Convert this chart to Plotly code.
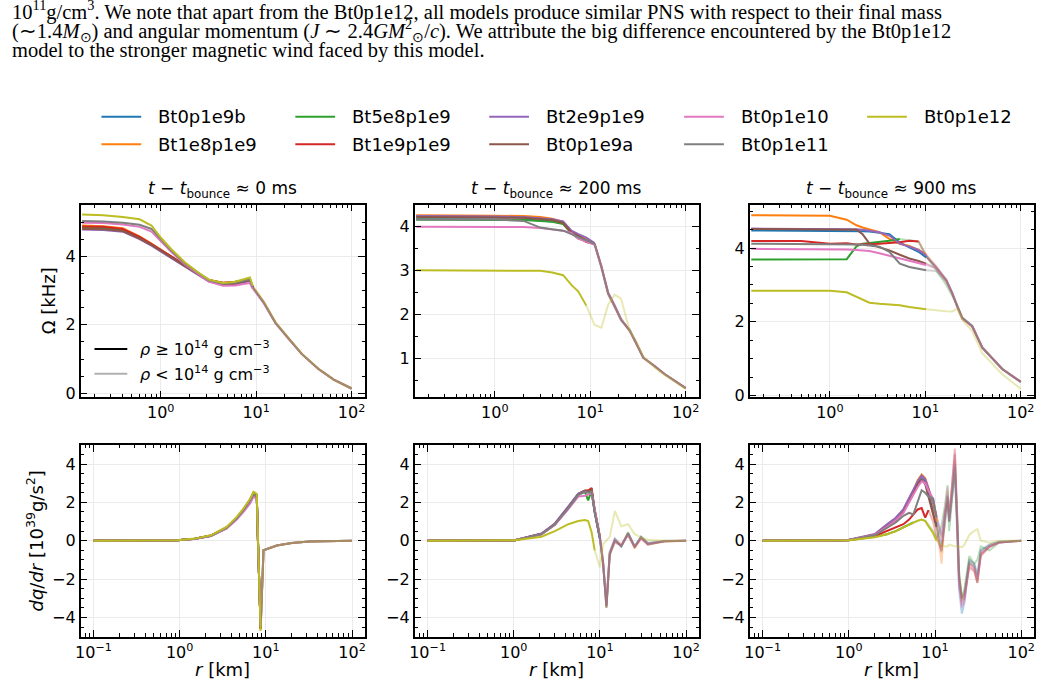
import plotly.graph_objects as go

W, H = 1054, 696
FONT = "DejaVu Sans"

MODELS = ["Bt0p1e9b", "Bt1e8p1e9", "Bt5e8p1e9", "Bt1e9p1e9", "Bt2e9p1e9",
          "Bt0p1e9a", "Bt0p1e10", "Bt0p1e11", "Bt0p1e12"]
COLORS = ["#1f77b4", "#ff7f0e", "#2ca02c", "#d62728", "#9467bd",
          "#8c564b", "#e377c2", "#7f7f7f", "#bcbd22"]
TIMES_MS = [0, 200, 900]
DENSITY_LABELS = ["<i>ρ</i> ≥ 10<sup>14</sup> g cm<sup>−3</sup>",
                  "<i>ρ</i> &lt; 10<sup>14</sup> g cm<sup>−3</sup>"]

# ---------------- Omega [kHz], t - t_bounce ~ 0 ms ----------------
R_OM_0 = [0.15, 0.25, 0.4, 0.6, 0.8, 1.0, 1.3, 1.8, 2.5, 3.2, 4.5, 6.0, 8.6, 9.2, 12, 16, 22, 30, 45, 65, 100]
OM_0_BT0P1E9B = [4.82, 4.81, 4.76, 4.54, 4.34, 4.17, 3.97, 3.71, 3.47, 3.29, 3.19, 3.21, 3.31, 3.09, 2.65, 2.05, 1.58, 1.15, 0.71, 0.40, 0.14]
OM_0_BT1E8P1E9 = [4.90, 4.88, 4.82, 4.58, 4.37, 4.19, 3.99, 3.73, 3.49, 3.31, 3.22, 3.25, 3.33, 3.10, 2.66, 2.05, 1.58, 1.15, 0.71, 0.40, 0.14]
OM_0_BT5E8P1E9 = [4.84, 4.83, 4.77, 4.55, 4.35, 4.18, 3.98, 3.72, 3.48, 3.30, 3.21, 3.23, 3.32, 3.10, 2.65, 2.05, 1.58, 1.15, 0.71, 0.40, 0.14]
OM_0_BT1E9P1E9 = [4.87, 4.86, 4.80, 4.57, 4.36, 4.19, 3.99, 3.73, 3.49, 3.31, 3.23, 3.26, 3.33, 3.10, 2.66, 2.06, 1.58, 1.15, 0.71, 0.40, 0.14]
OM_0_BT2E9P1E9 = [4.78, 4.77, 4.72, 4.50, 4.31, 4.14, 3.94, 3.68, 3.44, 3.26, 3.16, 3.18, 3.28, 3.08, 2.64, 2.05, 1.58, 1.15, 0.71, 0.40, 0.14]
OM_0_BT0P1E9A = [4.80, 4.79, 4.74, 4.52, 4.33, 4.16, 3.96, 3.70, 3.46, 3.28, 3.18, 3.20, 3.30, 3.09, 2.65, 2.05, 1.58, 1.15, 0.71, 0.40, 0.14]
OM_0_BT0P1E10 = [4.98, 4.97, 4.93, 4.86, 4.72, 4.45, 4.12, 3.76, 3.46, 3.26, 3.14, 3.15, 3.22, 3.05, 2.62, 2.04, 1.57, 1.15, 0.71, 0.40, 0.14]
OM_0_BT0P1E11 = [5.03, 5.02, 4.98, 4.92, 4.80, 4.50, 4.16, 3.79, 3.50, 3.30, 3.20, 3.23, 3.33, 3.10, 2.66, 2.05, 1.58, 1.15, 0.71, 0.40, 0.14]
OM_0_BT0P1E12 = [5.22, 5.20, 5.15, 5.08, 4.90, 4.55, 4.20, 3.82, 3.52, 3.32, 3.22, 3.26, 3.38, 3.14, 2.70, 2.08, 1.60, 1.16, 0.72, 0.40, 0.14]
CUT_OM_0 = [9.2, 9.2, 9.2, 9.2, 9.2, 9.2, 9.2, 9.2, 9.2]

# ---------------- Omega [kHz], ~ 200 ms ----------------
R_OM_200 = [0.15, 0.5, 1.0, 2.0, 3.0, 4.0, 5.2, 6.35, 7.5, 9.1, 11.1, 13.1, 15.4, 18, 21, 26, 30, 36, 47, 60, 100]
OM_200_BT0P1E9B = [4.16, 4.16, 4.16, 4.15, 4.13, 4.11, 4.06, 3.85, 3.77, 3.68, 3.60, 3.08, 2.50, 2.22, 1.90, 1.62, 1.38, 1.02, 0.83, 0.65, 0.33]
OM_200_BT1E8P1E9 = [4.25, 4.25, 4.24, 4.23, 4.21, 4.17, 4.10, 3.87, 3.80, 3.70, 3.60, 3.10, 2.48, 2.20, 1.89, 1.63, 1.37, 1.02, 0.83, 0.65, 0.33]
OM_200_BT5E8P1E9 = [4.15, 4.15, 4.15, 4.14, 4.12, 4.10, 4.05, 3.84, 3.72, 3.66, 3.60, 3.05, 2.45, 2.18, 1.86, 1.66, 1.36, 1.01, 0.84, 0.65, 0.33]
OM_200_BT1E9P1E9 = [4.22, 4.22, 4.21, 4.20, 4.18, 4.15, 4.08, 3.85, 3.75, 3.64, 3.60, 3.08, 2.48, 2.20, 1.89, 1.63, 1.37, 1.02, 0.83, 0.65, 0.33]
OM_200_BT2E9P1E9 = [4.23, 4.23, 4.22, 4.21, 4.19, 4.16, 4.11, 3.90, 3.82, 3.74, 3.62, 3.10, 2.50, 2.21, 1.88, 1.62, 1.37, 1.02, 0.83, 0.65, 0.33]
OM_200_BT0P1E9A = [4.21, 4.21, 4.20, 4.19, 4.17, 4.14, 4.08, 3.86, 3.78, 3.68, 3.60, 3.08, 2.48, 2.20, 1.89, 1.63, 1.37, 1.02, 0.83, 0.65, 0.33]
OM_200_BT0P1E10 = [3.99, 3.99, 3.99, 3.98, 3.96, 3.93, 3.90, 3.85, 3.72, 3.65, 3.58, 3.06, 2.47, 2.20, 1.90, 1.64, 1.38, 1.03, 0.83, 0.65, 0.33]
OM_200_BT0P1E11 = [4.15, 4.15, 4.15, 4.12, 3.97, 3.93, 3.90, 3.82, 3.76, 3.68, 3.60, 3.08, 2.48, 2.20, 1.89, 1.63, 1.37, 1.02, 0.83, 0.65, 0.33]
OM_200_BT0P1E12 = [3.00, 3.00, 3.00, 3.00, 2.99, 2.95, 2.89, 2.67, 2.52, 2.20, 1.76, 1.70, 2.22, 2.45, 2.36, 1.62, 1.42, 1.05, 0.80, 0.63, 0.31]
CUT_OM_200 = [11.1, 11.1, 11.1, 11.1, 11.1, 11.1, 11.1, 11.1, 9.1]

# ---------------- Omega [kHz], ~ 900 ms ----------------
R_OM_900 = [0.15, 0.5, 1.0, 1.5, 1.9, 2.2, 2.6, 3.3, 4.2, 5.4, 6.8, 8.5, 10.2, 12.9, 16.6, 19.2, 21.6, 24.4, 31, 39.5, 64, 100]
OM_900_BT0P1E9B = [4.48, 4.48, 4.48, 4.48, 4.47, 4.46, 4.45, 4.42, 4.38, 4.15, 4.02, 3.90, 3.75, 3.50, 3.15, 2.78, 2.40, 2.10, 1.88, 1.30, 0.72, 0.37]
OM_900_BT1E8P1E9 = [4.89, 4.89, 4.88, 4.77, 4.62, 4.56, 4.50, 4.43, 4.25, 4.12, 4.06, 3.95, 3.83, 3.52, 3.12, 2.75, 2.42, 2.12, 1.86, 1.30, 0.72, 0.37]
OM_900_BT5E8P1E9 = [3.69, 3.69, 3.68, 3.70, 4.05, 4.12, 4.14, 4.16, 4.20, 4.25, 4.22, 4.18, 3.80, 3.40, 3.00, 2.70, 2.45, 2.12, 1.90, 1.32, 0.72, 0.37]
OM_900_BT1E9P1E9 = [4.19, 4.19, 4.12, 4.13, 4.10, 4.10, 4.11, 4.12, 4.14, 4.16, 4.20, 4.18, 3.78, 3.48, 3.10, 2.78, 2.44, 2.08, 1.88, 1.30, 0.72, 0.37]
OM_900_BT2E9P1E9 = [4.53, 4.53, 4.52, 4.52, 4.51, 4.50, 4.47, 4.43, 4.34, 4.12, 4.04, 3.95, 3.80, 3.50, 3.14, 2.78, 2.42, 2.10, 1.88, 1.30, 0.72, 0.37]
OM_900_BT0P1E9A = [4.52, 4.52, 4.52, 4.51, 4.50, 4.38, 4.12, 4.02, 3.94, 3.82, 3.72, 3.65, 3.58, 3.45, 3.13, 2.77, 2.42, 2.10, 1.88, 1.30, 0.72, 0.37]
OM_900_BT0P1E10 = [3.98, 3.98, 3.97, 3.96, 3.95, 3.94, 3.92, 3.86, 3.79, 3.72, 3.65, 3.59, 3.54, 3.46, 3.10, 2.75, 2.40, 2.08, 1.88, 1.30, 0.72, 0.37]
OM_900_BT0P1E11 = [4.12, 4.12, 4.12, 4.11, 4.10, 4.09, 4.07, 4.04, 3.90, 3.58, 3.49, 3.44, 3.40, 3.38, 3.10, 2.76, 2.42, 2.10, 1.88, 1.30, 0.72, 0.37]
OM_900_BT0P1E12 = [2.84, 2.84, 2.84, 2.80, 2.68, 2.62, 2.52, 2.49, 2.47, 2.45, 2.40, 2.37, 2.34, 2.31, 2.29, 2.28, 2.35, 2.05, 1.75, 1.15, 0.58, 0.18]
CUT_OM_900 = [10.2, 10.2, 5.4, 8.5, 10.2, 10.2, 10.2, 10.2, 10.2]

# ---------------- dq/dr [1e39 g/s^2], ~ 0 ms ----------------
R_DQ_0 = [0.1, 0.5, 0.94, 1.5, 2.3, 3.5, 4.6, 5.5, 6.6, 7.2, 7.85, 8.1, 8.7, 9.4, 13.4, 20, 32, 60, 100]
DQ_0_BT0P1E9B = [0, 0, 0.03, 0.10, 0.26, 0.68, 1.18, 1.60, 2.10, 2.45, 2.28, 0.00, -4.50, -0.50, -0.25, -0.12, -0.04, 0, 0]
DQ_0_BT1E8P1E9 = [0, 0, 0.03, 0.10, 0.27, 0.69, 1.20, 1.63, 2.15, 2.50, 2.32, 0.00, -4.60, -0.50, -0.25, -0.12, -0.04, 0, 0]
DQ_0_BT5E8P1E9 = [0, 0, 0.03, 0.10, 0.26, 0.68, 1.19, 1.62, 2.13, 2.49, 2.30, 0.00, -4.60, -0.50, -0.25, -0.12, -0.04, 0, 0]
DQ_0_BT1E9P1E9 = [0, 0, 0.03, 0.10, 0.27, 0.69, 1.20, 1.64, 2.16, 2.52, 2.35, 0.00, -4.60, -0.50, -0.25, -0.12, -0.04, 0, 0]
DQ_0_BT2E9P1E9 = [0, 0, 0.03, 0.10, 0.25, 0.66, 1.15, 1.58, 2.08, 2.42, 2.25, 0.00, -4.50, -0.50, -0.25, -0.12, -0.04, 0, 0]
DQ_0_BT0P1E9A = [0, 0, 0.03, 0.10, 0.26, 0.68, 1.19, 1.62, 2.12, 2.47, 2.30, 0.00, -4.55, -0.50, -0.25, -0.12, -0.04, 0, 0]
DQ_0_BT0P1E10 = [0, 0, 0.03, 0.09, 0.24, 0.63, 1.10, 1.50, 1.95, 2.30, 2.20, -0.20, -4.40, -0.50, -0.25, -0.12, -0.04, 0, 0]
DQ_0_BT0P1E11 = [0, 0, 0.03, 0.10, 0.26, 0.67, 1.17, 1.60, 2.10, 2.42, 2.30, 0.00, -4.50, -0.50, -0.25, -0.12, -0.04, 0, 0]
DQ_0_BT0P1E12 = [0, 0, 0.03, 0.11, 0.28, 0.72, 1.24, 1.68, 2.20, 2.55, 2.45, 0.20, -4.70, -0.50, -0.25, -0.12, -0.04, 0, 0]
CUT_DQ_0 = [8.7, 8.7, 8.7, 8.7, 8.7, 8.7, 8.7, 8.7, 8.7]

# ---------------- dq/dr, ~ 200 ms ----------------
R_DQ_200 = [0.1, 0.5, 1.04, 2.1, 3.0, 4.3, 5.6, 6.7, 7.3, 8.0, 8.7, 10, 10.9, 11.9, 13, 14.9, 17.7, 21.2, 25.3, 30, 36, 56, 100]
DQ_200_BT0P1E9B = [0, 0, 0.03, 0.36, 0.88, 1.75, 2.45, 2.60, 2.55, 2.60, 1.50, 0.10, -1.30, -3.30, -0.60, 0.10, -0.30, 0.40, -0.30, 0.20, -0.15, -0.03, 0]
DQ_200_BT1E8P1E9 = [0, 0, 0.03, 0.34, 0.85, 1.70, 2.40, 2.60, 2.62, 2.68, 1.60, 0.20, -1.10, -3.40, -0.70, 0.00, -0.20, 0.30, -0.40, 0.15, -0.20, -0.05, 0]
DQ_200_BT5E8P1E9 = [0, 0, 0.03, 0.35, 0.86, 1.72, 2.42, 2.55, 2.10, 2.60, 1.50, 0.15, -1.20, -3.50, -0.80, 0.10, -0.30, 0.45, -0.30, 0.20, -0.10, 0.00, 0]
DQ_200_BT1E9P1E9 = [0, 0, 0.03, 0.36, 0.87, 1.74, 2.44, 2.62, 2.60, 2.75, 1.60, 0.20, -1.25, -3.45, -0.70, -0.10, -0.25, 0.35, -0.35, 0.10, -0.20, -0.02, 0]
DQ_200_BT2E9P1E9 = [0, 0, 0.04, 0.38, 0.90, 1.78, 2.45, 2.60, 2.55, 2.60, 1.45, 0.10, -1.20, -3.40, -0.60, 0.05, -0.30, 0.30, -0.30, 0.20, -0.15, -0.03, 0]
DQ_200_BT0P1E9A = [0, 0, 0.03, 0.35, 0.86, 1.72, 2.40, 2.58, 2.58, 2.66, 1.55, 0.17, -1.20, -3.50, -0.70, 0.00, -0.26, 0.40, -0.34, 0.17, -0.17, -0.03, 0]
DQ_200_BT0P1E10 = [0, 0, 0.03, 0.33, 0.82, 1.65, 2.30, 2.35, 2.40, 2.50, 1.60, 0.20, -1.10, -3.30, -0.60, 0.10, -0.20, 0.30, -0.30, 0.15, -0.15, -0.02, 0]
DQ_200_BT0P1E11 = [0, 0, 0.03, 0.34, 0.84, 1.70, 2.38, 2.55, 2.50, 2.55, 1.50, 0.15, -1.15, -3.40, -0.65, 0.00, -0.30, 0.35, -0.30, 0.20, -0.20, -0.03, 0]
DQ_200_BT0P1E12 = [0, 0, 0.02, 0.21, 0.50, 0.86, 1.03, 1.08, 1.03, 0.45, -0.50, -1.38, -0.17, 0.00, 0.20, 1.55, 0.75, 0.86, 0.34, 0.17, 0.05, 0.00, 0]
CUT_DQ_200 = [10, 10, 10, 10, 10, 10, 10, 10, 8.7]

# ---------------- dq/dr, ~ 900 ms ----------------
R_DQ_900 = [0.1, 0.5, 1.0, 2.0, 2.77, 3.5, 4.3, 5.0, 5.6, 6.3, 7.0, 7.7, 8.4, 9.5, 10.4, 11.9,
            13, 14, 14.6, 16.2, 17, 18.2, 19, 20.5, 22, 25, 28.5, 31, 34, 43, 55, 100]
DQ_900_BT0P1E9B = [0, 0, 0.04, 0.30, 0.75, 1.10, 1.55, 2.10, 2.55, 3.05, 3.40, 3.10, 2.40, 1.60, 0.80, -0.30,
                   0.80, 2.20, 1.00, 2.80, 3.50, 0.00, -2.50, -3.80, -3.20, -1.00, -1.20, -1.80, -0.50, -0.20, -0.05, 0]
DQ_900_BT1E8P1E9 = [0, 0, 0.04, 0.32, 0.80, 1.15, 1.60, 2.15, 2.60, 3.15, 3.45, 3.25, 2.75, 1.90, 1.00, -1.20,
                    1.20, 2.60, 1.50, 3.00, 4.20, 0.60, -2.00, -3.30, -2.80, -1.20, -1.50, -2.10, -0.70, -0.30, -0.10, 0]
DQ_900_BT5E8P1E9 = [0, 0, 0.02, 0.20, 0.34, 0.50, 0.69, 0.85, 0.95, 1.05, 1.10, 1.05, 0.80, 0.50, 0.10, 0.80,
                    1.80, 2.90, 0.50, 2.50, 3.80, 1.00, -1.50, -3.00, -2.50, -0.80, -1.20, -1.00, -0.30, -0.50, -0.10, 0]
DQ_900_BT1E9P1E9 = [0, 0, 0.03, 0.25, 0.50, 0.70, 0.86, 1.10, 1.37, 1.63, 1.70, 1.20, 1.60, 1.00, 0.20, -0.50,
                    1.50, 2.00, 1.00, 3.50, 4.80, 1.00, -1.80, -3.00, -2.80, -1.40, -1.60, -2.20, -0.80, -0.30, -0.10, 0]
DQ_900_BT2E9P1E9 = [0, 0, 0.05, 0.35, 0.85, 1.20, 1.65, 2.20, 2.60, 3.10, 3.40, 3.20, 2.70, 2.00, 1.30, 0.30,
                    1.40, 2.40, 1.00, 2.80, 4.00, 0.80, -2.20, -3.40, -3.00, -1.20, -1.30, -2.00, -0.60, -0.30, -0.10, 0]
DQ_900_BT0P1E9A = [0, 0, 0.04, 0.30, 0.75, 1.05, 1.50, 2.00, 2.45, 2.95, 3.20, 2.95, 2.30, 1.40, 0.70, -0.60,
                   1.00, 2.30, 1.20, 3.20, 4.50, 0.50, -2.00, -3.10, -3.00, -1.10, -1.40, -2.20, -0.70, -0.30, -0.10, 0]
DQ_900_BT0P1E10 = [0, 0, 0.04, 0.30, 0.72, 1.05, 1.45, 1.95, 2.40, 2.80, 3.10, 3.00, 2.60, 2.20, 1.20, 0.00,
                   1.50, 2.80, 1.20, 3.50, 4.60, 0.80, -2.40, -3.50, -3.20, -1.30, -1.50, -2.00, -0.70, -0.30, -0.10, 0]
DQ_900_BT0P1E11 = [0, 0, 0.03, 0.28, 0.65, 0.95, 1.30, 1.45, 1.37, 2.00, 2.63, 2.50, 2.30, 2.20, 1.20, 0.20,
                   1.20, 2.30, 1.00, 2.80, 3.90, 0.60, -1.80, -3.00, -2.60, -1.00, -1.20, -1.80, -0.50, -0.20, -0.05, 0]
DQ_900_BT0P1E12 = [0, 0, 0.02, 0.18, 0.34, 0.50, 0.69, 0.85, 0.95, 1.05, 1.10, 1.03, 0.75, 0.40, 0.00, -0.20,
                   -0.30, -0.30, -0.20, -0.26, -0.30, -0.30, -0.30, -0.34, -0.20, 0.30, 0.52, 0.60, 0.00, -0.10, 0, 0]
CUT_DQ_900 = [10.4, 10.4, 5.6, 8.4, 10.4, 10.4, 10.4, 10.4, 10.4]

# ---------------- assemble panels (data only) ----------------
PANELS = [
    (R_OM_0, [OM_0_BT0P1E9B, OM_0_BT1E8P1E9, OM_0_BT5E8P1E9, OM_0_BT1E9P1E9, OM_0_BT2E9P1E9,
              OM_0_BT0P1E9A, OM_0_BT0P1E10, OM_0_BT0P1E11, OM_0_BT0P1E12], CUT_OM_0),
    (R_OM_200, [OM_200_BT0P1E9B, OM_200_BT1E8P1E9, OM_200_BT5E8P1E9, OM_200_BT1E9P1E9, OM_200_BT2E9P1E9,
                OM_200_BT0P1E9A, OM_200_BT0P1E10, OM_200_BT0P1E11, OM_200_BT0P1E12], CUT_OM_200),
    (R_OM_900, [OM_900_BT0P1E9B, OM_900_BT1E8P1E9, OM_900_BT5E8P1E9, OM_900_BT1E9P1E9, OM_900_BT2E9P1E9,
                OM_900_BT0P1E9A, OM_900_BT0P1E10, OM_900_BT0P1E11, OM_900_BT0P1E12], CUT_OM_900),
    (R_DQ_0, [DQ_0_BT0P1E9B, DQ_0_BT1E8P1E9, DQ_0_BT5E8P1E9, DQ_0_BT1E9P1E9, DQ_0_BT2E9P1E9,
              DQ_0_BT0P1E9A, DQ_0_BT0P1E10, DQ_0_BT0P1E11, DQ_0_BT0P1E12], CUT_DQ_0),
    (R_DQ_200, [DQ_200_BT0P1E9B, DQ_200_BT1E8P1E9, DQ_200_BT5E8P1E9, DQ_200_BT1E9P1E9, DQ_200_BT2E9P1E9,
                DQ_200_BT0P1E9A, DQ_200_BT0P1E10, DQ_200_BT0P1E11, DQ_200_BT0P1E12], CUT_DQ_200),
    (R_DQ_900, [DQ_900_BT0P1E9B, DQ_900_BT1E8P1E9, DQ_900_BT5E8P1E9, DQ_900_BT1E9P1E9, DQ_900_BT2E9P1E9,
                DQ_900_BT0P1E9A, DQ_900_BT0P1E10, DQ_900_BT0P1E11, DQ_900_BT0P1E12], CUT_DQ_900),
]

# ---------------- layout geometry (pixels) ----------------
COL_X = [(76, 362), (412, 698), (749, 1035)]
ROW_Y = [(207, 402), (450, 644)]
X_RANGE = [[-0.84, 2.14], [-1.15, 2.15]]
Y_RANGES = [[-0.12, 5.51], [0.12, 4.49], [-0.05, 5.18], [-5, 5], [-5, 5], [-5, 5]]
Y_DTICK = [2, 1, 2, 2, 2, 2]
FADE = 0.33
LW = 2

fig = go.Figure()


def ax_id(k):
    return "" if k == 0 else str(k + 1)


for k, (rr, series, cuts) in enumerate(PANELS):
    xa, ya = "x" + ax_id(k), "y" + ax_id(k)
    for i, vals in enumerate(series):
        xs = [r for r in rr if r >= cuts[i]]
        ys = [v for r, v in zip(rr, vals) if r >= cuts[i]]
        fig.add_trace(go.Scatter(x=xs, y=ys, mode="lines", xaxis=xa, yaxis=ya,
                                 line=dict(color=COLORS[i], width=LW), opacity=FADE,
                                 name=MODELS[i], showlegend=False, hoverinfo="skip"))
    for i, vals in enumerate(series):
        xs = [r for r in rr if r <= cuts[i]]
        ys = [v for r, v in zip(rr, vals) if r <= cuts[i]]
        fig.add_trace(go.Scatter(x=xs, y=ys, mode="lines", xaxis=xa, yaxis=ya,
                                 line=dict(color=COLORS[i], width=LW), name=MODELS[i],
                                 showlegend=False, hoverinfo="skip"))


def px_x(x):
    return x / W


def px_y(y):
    return 1 - y / H


layout = dict(width=W, height=H, margin=dict(l=0, r=0, t=0, b=0),
              paper_bgcolor="white", plot_bgcolor="white", showlegend=False,
              font=dict(family=FONT, size=16, color="black"))

for k in range(6):
    row, col = k // 3, k % 3
    x0, x1 = COL_X[col]
    y0, y1 = ROW_Y[row]
    if row == 0:
        tv = [1, 10, 100]
        tt = ["10<sup>0</sup>", "10<sup>1</sup>", "10<sup>2</sup>"]
        decades = [0.1, 1, 10, 100]
    else:
        tv = [0.1, 1, 10, 100]
        tt = ["10<sup>−1</sup>", "10<sup>0</sup>", "10<sup>1</sup>", "10<sup>2</sup>"]
        decades = [0.01, 0.1, 1, 10, 100]
    minor_vals = [d * m for d in decades for m in range(2, 10)]
    layout["xaxis" + ax_id(k)] = dict(
        domain=[px_x(x0), px_x(x1)], anchor="y" + ax_id(k), type="log", range=X_RANGE[row],
        tickvals=tv, ticktext=tt, ticks="inside", ticklen=7, tickwidth=1.2, tickcolor="black",
        minor=dict(tickvals=minor_vals, ticks="inside", ticklen=3.5, tickwidth=1, tickcolor="black",
                   showgrid=False),
        showline=True, linecolor="black", linewidth=1.5, mirror="ticks",
        showgrid=True, gridcolor="#ebebeb", gridwidth=1, zeroline=False,
        tickfont=dict(family=FONT, size=16, color="black"))
    layout["yaxis" + ax_id(k)] = dict(
        domain=[px_y(y1), px_y(y0)], anchor="x" + ax_id(k), range=Y_RANGES[k],
        tick0=0, dtick=Y_DTICK[k], ticks="inside", ticklen=7, tickwidth=1.2, tickcolor="black",
        minor=dict(dtick=0.5, tick0=0, ticks="inside", ticklen=3.5, tickwidth=1, tickcolor="black",
                   showgrid=False),
        showline=True, linecolor="black", linewidth=1.5, mirror="ticks",
        showgrid=True, gridcolor="#ebebeb", gridwidth=1, zeroline=False,
        tickfont=dict(family=FONT, size=16, color="black"))

shapes = []
ann = []

# ---- model legend (5 columns x 2 rows, column-major like matplotlib) ----
LEG_COL_X = [97, 292, 487, 683, 867]
LEG_ROW_Y = [118, 146]
for i, name in enumerate(MODELS):
    lx = LEG_COL_X[i // 2]
    ly = LEG_ROW_Y[i % 2]
    shapes.append(dict(type="line", xref="paper", yref="paper",
                       x0=px_x(lx), x1=px_x(lx + 40), y0=px_y(ly), y1=px_y(ly),
                       line=dict(color=COLORS[i], width=2)))
    ann.append(dict(text=name, x=px_x(lx + 55), y=px_y(ly), xref="paper", yref="paper",
                    xanchor="left", yanchor="middle", showarrow=False,
                    font=dict(family=FONT, size=18, color="black")))

# ---- density legend inside first panel ----
DENS_COLORS = ["black", "#b0b0b0"]
DENS_ROW_Y = [353, 378]
for lbl, c, ly in zip(DENSITY_LABELS, DENS_COLORS, DENS_ROW_Y):
    shapes.append(dict(type="line", xref="paper", yref="paper",
                       x0=px_x(90), x1=px_x(123), y0=px_y(ly), y1=px_y(ly),
                       line=dict(color=c, width=2)))
    ann.append(dict(text=lbl, x=px_x(134), y=px_y(ly), xref="paper", yref="paper",
                    xanchor="left", yanchor="middle", showarrow=False,
                    font=dict(family=FONT, size=16, color="black")))

for col, t in enumerate(TIMES_MS):
    xc = (COL_X[col][0] + COL_X[col][1]) / 2
    ann.append(dict(text="<i>t</i> − <i>t</i><sub>bounce</sub> ≈ %d ms" % t,
                    x=px_x(xc), y=px_y(192), xref="paper", yref="paper",
                    xanchor="center", yanchor="middle", showarrow=False,
                    font=dict(family=FONT, size=17, color="black")))
    ann.append(dict(text="<i>r</i> [km]", x=px_x(xc), y=px_y(677), xref="paper", yref="paper",
                    xanchor="center", yanchor="middle", showarrow=False,
                    font=dict(family=FONT, size=18, color="black")))
ann.append(dict(text="Ω [kHz]", x=px_x(44), y=px_y(304), xref="paper", yref="paper",
                xanchor="center", yanchor="middle", textangle=-90, showarrow=False,
                font=dict(family=FONT, size=18, color="black")))
ann.append(dict(text="<i>dq</i>/<i>dr</i> [10<sup>39</sup>g/s<sup>2</sup>]", x=px_x(30), y=px_y(547),
                xref="paper", yref="paper", xanchor="center", yanchor="middle", textangle=-90,
                showarrow=False, font=dict(family=FONT, size=18, color="black")))

PARA = [
    "10<sup>11</sup>g/cm<sup>3</sup>. We note that apart from the Bt0p1e12, all models produce similar PNS with respect to their final mass",
    "(∼1.4<i>M</i><sub>⊙</sub>) and angular momentum (<i>J</i> ∼ 2.4<i>GM</i><sup>2</sup><sub>⊙</sub>/<i>c</i>). We attribute the big difference encountered by the Bt0p1e12",
    "model to the stronger magnetic wind faced by this model.",
]
PARA_Y = [11, 31, 51]
for txt, py in zip(PARA, PARA_Y):
    ann.append(dict(text=txt, x=px_x(5), y=px_y(py), xref="paper", yref="paper",
                    xanchor="left", yanchor="middle", showarrow=False,
                    font=dict(family="Liberation Serif", size=20.5, color="black")))

layout["annotations"] = ann
layout["shapes"] = shapes

fig.update_layout(**layout)
fig.write_html("out.html")
